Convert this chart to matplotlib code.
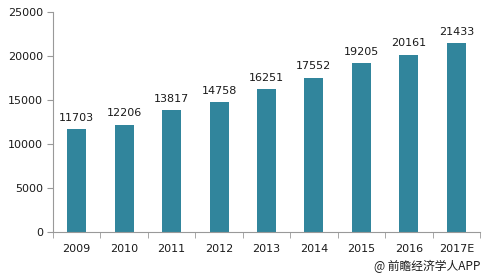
import matplotlib
matplotlib.use("Agg")
import matplotlib.pyplot as plt
import numpy as np

plt.rcParams['font.family'] = ['DejaVu Sans', 'Noto Sans CJK SC']

# data
years = ["2009", "2010", "2011", "2012", "2013", "2014", "2015", "2016", "2017E"]
values = [11703, 12206, 13817, 14758, 16251, 17552, 19205, 20161, 21433]
yticks = [0, 5000, 10000, 15000, 20000, 25000]

fig = plt.figure(figsize=(4.89, 2.77), dpi=100)
ax = fig.add_axes([53/489, 1-232/277, 427/489, 220/277])

x = np.arange(len(years))
ax.bar(x, values, 0.4, color="#31859C")
for xi, v in zip(x, values):
    ax.text(xi, v + 700, str(v), ha="center", va="bottom", fontsize=8, color="#1a1a1a")

ax.set_xlim(-0.5, len(years) - 0.5)
ax.set_ylim(0, 25000)
ax.set_yticks(yticks)
ax.set_yticklabels([str(t) for t in yticks], fontsize=8, color="#1a1a1a")
ax.set_xticks(x)
ax.set_xticklabels(years, fontsize=8, color="#1a1a1a")
ax.set_xticks(np.arange(len(years) + 1) - 0.5, minor=True)
ax.tick_params(axis="x", which="major", length=0, pad=9)
ax.tick_params(axis="x", which="minor", length=4, color="#999999")
ax.tick_params(axis="y", length=4, color="#999999", pad=3)

for s in ["top", "right"]:
    ax.spines[s].set_visible(False)
for s in ["left", "bottom"]:
    ax.spines[s].set_color("#999999")
    ax.spines[s].set_linewidth(0.8)

fig.text(480/489, 1-266/277, "@ 前瞻经济学人APP", ha="right", va="center",
         fontsize=8.5, color="#1a1a1a", family=['Noto Sans CJK SC', 'DejaVu Sans'])

fig.savefig("out.png", dpi=100)
